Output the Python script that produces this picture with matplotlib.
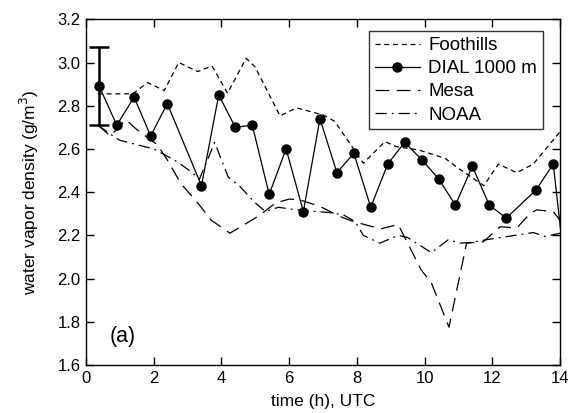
import matplotlib
matplotlib.use("Agg")
import matplotlib.pyplot as plt
from matplotlib.ticker import FormatStrFormatter, MultipleLocator

plt.rcParams['font.family'] = ['Liberation Sans', 'DejaVu Sans']

# ---- data ----
dial_t = [0.39, 0.91, 1.42, 1.91, 2.40, 3.41, 3.92, 4.41, 4.91, 5.41, 5.91, 6.42,
          6.91, 7.41, 7.91, 8.41, 8.91, 9.41, 9.92, 10.42, 10.91, 11.41, 11.91,
          12.41, 13.29, 13.80, 14.29]
dial_v = [2.89, 2.71, 2.84, 2.66, 2.81, 2.43, 2.85, 2.70, 2.71, 2.39, 2.60, 2.31,
          2.74, 2.49, 2.58, 2.33, 2.53, 2.63, 2.55, 2.46, 2.34, 2.52, 2.34,
          2.28, 2.41, 2.53, 1.84]
err_t = [0.39]
err_v = [2.89]
err_e = [0.18]

foot_t = [0.35, 1.38, 1.82, 2.31, 2.74, 3.30, 3.72, 4.18, 4.73, 4.99, 5.73, 6.22,
          7.01, 7.35, 8.19, 8.83, 9.18, 9.81, 10.6, 11.0, 11.75, 12.18, 12.72,
          13.21, 14.0]
foot_v = [2.855, 2.855, 2.907, 2.87, 3.00, 2.958, 2.984, 2.858, 3.02, 2.98, 2.753,
          2.79, 2.757, 2.727, 2.534, 2.634, 2.61, 2.596, 2.557, 2.51, 2.43, 2.53,
          2.49, 2.53, 2.68]

mesa_t = [0.35, 0.72, 1.18, 1.50, 2.10, 2.40, 2.80, 3.30, 3.70, 4.25, 4.75, 5.10,
          5.60, 6.00, 6.30, 6.90, 7.50, 7.90, 8.70, 9.22, 9.90, 10.20, 10.72,
          11.24, 11.73, 12.23, 12.72, 13.11, 13.31, 13.80, 14.0]
mesa_v = [2.71, 2.66, 2.735, 2.69, 2.62, 2.55, 2.44, 2.35, 2.27, 2.21, 2.257, 2.29,
          2.35, 2.368, 2.365, 2.335, 2.287, 2.264, 2.23, 2.25, 2.04, 1.98, 1.775,
          2.164, 2.17, 2.24, 2.234, 2.30, 2.318, 2.31, 2.27]

noaa_t = [0.35, 0.75, 1.00, 2.00, 2.30, 2.70, 3.10, 3.35, 3.80, 4.20, 4.55, 4.95,
          5.30, 5.68, 6.12, 6.81, 7.16, 7.60, 7.95, 8.19, 8.68, 9.22, 9.50, 10.20,
          10.70, 11.05, 11.34, 11.83, 13.21, 13.56, 14.0]
noaa_v = [2.71, 2.665, 2.64, 2.60, 2.575, 2.54, 2.495, 2.46, 2.63, 2.47, 2.426,
          2.357, 2.31, 2.33, 2.32, 2.31, 2.306, 2.295, 2.264, 2.20, 2.164, 2.20,
          2.19, 2.12, 2.18, 2.164, 2.167, 2.18, 2.213, 2.195, 2.21]

xticks = [0, 2, 4, 6, 8, 10, 12, 14]

fig = plt.figure(figsize=(5.68, 4.13), dpi=100)
ax = fig.add_axes([0.1514, 0.1162, 0.8346, 0.8371])

lw = 0.9
ax.plot(foot_t, foot_v, color='black', lw=lw, dashes=(4, 3), label='Foothills')
ax.plot(dial_t, dial_v, color='black', lw=lw, marker='o', markersize=6.5,
        label='DIAL 1000 m')
ax.plot(mesa_t, mesa_v, color='black', lw=lw, dashes=(11, 6), label='Mesa')
ax.plot(noaa_t, noaa_v, color='black', lw=lw, dashes=(9, 4, 1.5, 4), label='NOAA')
ax.errorbar(err_t, err_v, yerr=err_e, fmt='none', ecolor='black', elinewidth=1.8,
            capsize=7.5, capthick=1.8)

ax.set_xlim(0, 14)
ax.set_ylim(1.6, 3.2)
ax.set_xticks(xticks)
ax.yaxis.set_major_locator(MultipleLocator(0.2))
ax.yaxis.set_major_formatter(FormatStrFormatter('%.1f'))
ax.tick_params(direction='in', top=True, right=True, length=6, width=1,
               labelsize=12, pad=4)
for s in ax.spines.values():
    s.set_linewidth(1)

ax.set_xlabel('time (h), UTC', fontsize=12.5, labelpad=6)
ax.set_ylabel('water vapor density (g/m$^3$)', fontsize=12.5, labelpad=12)

ax.text(0.71, 1.73, '(a)', fontsize=15.5, va='center', ha='left')

leg = ax.legend(loc='upper right', bbox_to_anchor=(0.963, 0.965), fontsize=13.5,
                frameon=True, fancybox=False, shadow=False, handlelength=2.4,
                borderpad=0.3, labelspacing=0.32, handletextpad=0.45,
                borderaxespad=0)
leg.get_frame().set_edgecolor('black')
leg.get_frame().set_linewidth(1)

fig.savefig('out.png', dpi=100)
